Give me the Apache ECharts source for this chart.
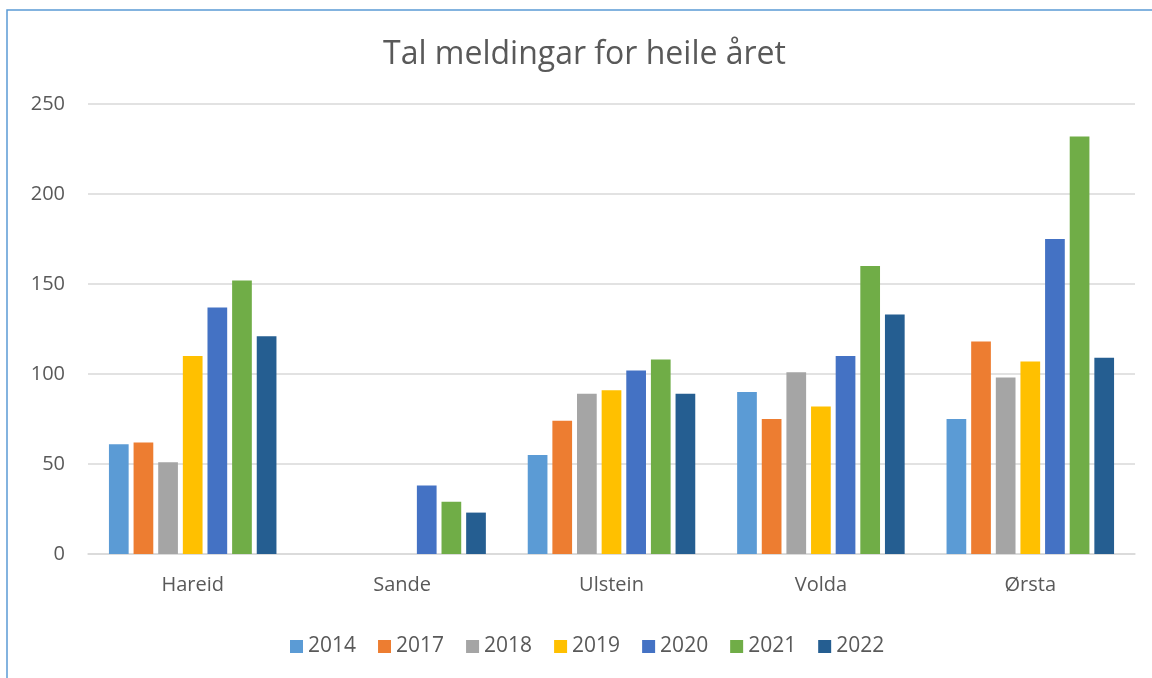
<!DOCTYPE html>
<html>
<head>
<meta charset="utf-8">
<script src="https://cdn.jsdelivr.net/npm/echarts@6/dist/echarts.min.js"></script>
<style>html,body{margin:0;padding:0;background:#fff;}#c{width:1152px;height:678px;}</style>
</head>
<body>
<div id="c"></div>
<script>
var categories = ['Hareid', 'Sande', 'Ulstein', 'Volda', 'Ørsta'];
var years = ['2014', '2017', '2018', '2019', '2020', '2021', '2022'];
var v2014 = [61, null, 55, 90, 75];
var v2017 = [62, null, 74, 75, 118];
var v2018 = [51, null, 89, 101, 98];
var v2019 = [110, null, 91, 82, 107];
var v2020 = [137, 38, 102, 110, 175];
var v2021 = [152, 29, 108, 160, 232];
var v2022 = [121, 23, 89, 133, 109];
var yTicks = [0, 50, 100, 150, 200, 250];
var colors = ['#5B9BD5', '#ED7D31', '#A5A5A5', '#FFC000', '#4472C4', '#70AD47', '#255E91'];
var values = [v2014, v2017, v2018, v2019, v2020, v2021, v2022];

var font = '"Open Sans", "Noto Sans", sans-serif';
var chart = echarts.init(document.getElementById('c'), null, {renderer: 'canvas'});
var series = years.map(function (y, i) {
  return {
    name: y,
    type: 'bar',
    data: values[i],
    itemStyle: {color: colors[i]},
    barGap: '25%',
    barCategoryGap: '20%'
  };
});
chart.setOption({
  animation: false,
  backgroundColor: '#fff',
  color: colors,
  title: {
    text: 'Tal meldingar for heile året',
    left: 378,
    top: 34,
    textStyle: {fontFamily: font, fontSize: 32, fontWeight: 'normal', color: '#595959'}
  },
  graphic: [{
    type: 'rect',
    shape: {x: 7, y: 10, width: 1200, height: 720},
    style: {fill: 'none', stroke: '#5B9BD5', lineWidth: 1.5},
    silent: true
  }],
  legend: {
    data: years,
    left: 285,
    top: 631,
    itemWidth: 13,
    itemHeight: 13,
    itemGap: 22,
    icon: 'rect',
    textStyle: {fontFamily: font, fontSize: 21, color: '#595959'}
  },
  grid: {left: 88, right: 17, top: 104, bottom: 124, containLabel: false},
  xAxis: {
    type: 'category',
    data: categories,
    axisLine: {lineStyle: {color: '#D9D9D9', width: 1.5}},
    axisTick: {show: false},
    axisLabel: {fontFamily: font, fontSize: 20, color: '#595959', margin: 21}
  },
  yAxis: {
    type: 'value',
    min: yTicks[0],
    max: yTicks[yTicks.length - 1],
    interval: 50,
    axisLine: {show: false},
    axisTick: {show: false},
    axisLabel: {fontFamily: font, fontSize: 20, color: '#595959', margin: 23},
    splitLine: {lineStyle: {color: '#D9D9D9', width: 1.5}}
  },
  series: series
});
</script>
</body>
</html>
